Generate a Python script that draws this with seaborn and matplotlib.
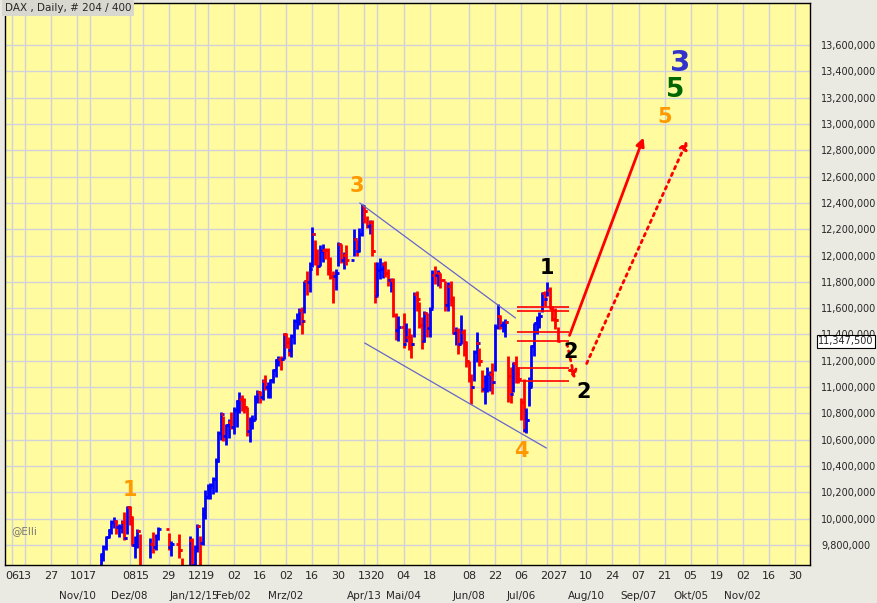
import numpy as np
import pandas as pd
import matplotlib
matplotlib.use("Agg")
import matplotlib.pyplot as plt
import seaborn as sns

# ---- data (DAX daily) ----
holidays = ["2014-12-24", "2014-12-25", "2014-12-26", "2014-12-31", "2015-01-01",
            "2015-04-03", "2015-04-06", "2015-05-01", "2015-05-25"]
closes = [9472, 9732, 9785, 9861, 9915, 9974, 9980,
          9934, 9935, 9971, 9851, 10087, 10014, 9799, 9800, 9903, 9594, 9335, 9563, 9564, 9811, 9787, 9866, 9922, 9783, 9806,
          9765, 9473, 9469, 9518, 9837, 9648, 9781, 9941, 9817, 10032, 10167, 10242, 10257, 10299, 10435, 10649, 10798, 10628, 10710, 10738, 10694,
          10828, 10891, 10911, 10905, 10846, 10663, 10752, 10752, 10919, 10963, 10924, 11050, 11001, 11002, 11051, 11130, 11206, 11211, 11210, 11402,
          11345, 11281, 11390, 11504, 11551, 11583, 11500, 11806, 11799, 11901, 12167, 11980, 11923, 12036, 12040, 12039, 11896, 11843, 11842, 11869, 12086, 11966,
          12002, 11968, 12124, 12035, 12166, 12375, 12338, 12227, 12251, 12035, 11689, 11892, 11896, 11939, 11867, 11811, 11811, 11547, 11432, 11454,
          11327, 11380, 11350, 11327, 11710, 11673, 11472, 11351, 11560, 11447, 11594, 11853, 11849, 11864, 11815, 11625, 11771, 11673, 11413,
          11436, 11328, 11419, 11340, 11197, 11064, 11001, 11265, 11333, 11197, 10984, 11044, 11100, 11100, 11040, 11460, 11542, 11471, 11473, 11492, 11083, 10945,
          11180, 11099, 11058, 10890, 10676, 10747, 10997, 11316, 11484, 11516, 11540, 11717, 11673, 11735, 11604, 11520, 11513, 11347.5]
highs = [9540, 9740, 9800, 9870, 9920, 9990, 10010,
         9990, 9960, 9990, 10050, 10093, 10100, 10020, 9870, 9920, 9880, 9600, 9600, 9640, 9850, 9900, 9880, 9940, 9890, 9830,
         9880, 9700, 9590, 9580, 9870, 9850, 9800, 9960, 9870, 10090, 10220, 10260, 10270, 10320, 10460, 10670, 10810, 10780, 10720, 10760, 10810,
         10850, 10900, 10960, 10940, 10920, 10850, 10770, 10790, 10940, 10980, 10970, 11060, 11090, 11040, 11060, 11140, 11210, 11240, 11240, 11410,
         11410, 11380, 11400, 11520, 11560, 11600, 11610, 11810, 11880, 11950, 12220, 12120, 12050, 12080, 12090, 12060, 12060, 11990, 11880, 11900, 12100, 12090,
         12030, 12080, 12200, 12120, 12210, 12390, 12380, 12300, 12270, 12270, 11950, 11950, 11980, 11950, 11960, 11900, 11830, 11830, 11560, 11540,
         11560, 11490, 11450, 11400, 11720, 11730, 11650, 11530, 11580, 11560, 11610, 11890, 11920, 11890, 11870, 11810, 11800, 11810, 11690,
         11460, 11450, 11550, 11440, 11350, 11200, 11100, 11280, 11420, 11300, 11130, 11090, 11150, 11120, 11180, 11480, 11630, 11550, 11500, 11520, 11240, 11150,
         11190, 11240, 11150, 10920, 11060, 10840, 11080, 11320, 11490, 11540, 11570, 11720, 11730, 11800, 11760, 11620, 11600, 11460]
lows = [9380, 9500, 9680, 9760, 9850, 9880, 9930,
        9880, 9860, 9890, 9840, 9880, 9950, 9790, 9700, 9780, 9580, 9260, 9220, 9450, 9700, 9740, 9760, 9840, 9760, 9720,
        9700, 9460, 9380, 9400, 9530, 9640, 9640, 9750, 9650, 9800, 10000, 10150, 10150, 10190, 10200, 10430, 10600, 10590, 10560, 10610, 10680,
        10640, 10700, 10800, 10820, 10800, 10630, 10580, 10680, 10750, 10880, 10880, 10900, 10980, 10920, 10920, 11030, 11080, 11160, 11130, 11210,
        11300, 11240, 11230, 11330, 11440, 11470, 11400, 11560, 11700, 11720, 11910, 11930, 11850, 11920, 11950, 11970, 11850, 11820, 11640, 11740, 11920, 11940,
        11900, 11930, 12000, 12000, 12030, 12150, 12250, 12210, 12160, 12000, 11640, 11690, 11820, 11830, 11840, 11770, 11720, 11530, 11360, 11350,
        11300, 11340, 11280, 11220, 11380, 11580, 11450, 11290, 11340, 11380, 11380, 11600, 11780, 11770, 11750, 11580, 11580, 11620, 11400,
        11320, 11250, 11330, 11240, 11150, 11040, 10870, 11050, 11190, 11160, 10960, 10870, 10960, 10970, 10950, 11120, 11440, 11440, 11420, 11380, 10890, 10880,
        10960, 11030, 11030, 10750, 10660, 10650, 10860, 11000, 11240, 11400, 11450, 11570, 11620, 11690, 11600, 11500, 11440, 11340]

day_labels = [("2014-10-06", "06"), ("2014-10-13", "13"), ("2014-10-27", "27"), ("2014-11-10", "10"),
              ("2014-11-17", "17"), ("2014-12-08", "08"), ("2014-12-15", "15"), ("2014-12-29", "29"),
              ("2015-01-12", "12"), ("2015-01-19", "19"), ("2015-02-02", "02"), ("2015-02-16", "16"),
              ("2015-03-02", "02"), ("2015-03-16", "16"), ("2015-03-30", "30"), ("2015-04-13", "13"),
              ("2015-04-20", "20"), ("2015-05-04", "04"), ("2015-05-18", "18"), ("2015-06-08", "08"),
              ("2015-06-22", "22"), ("2015-07-06", "06"), ("2015-07-20", "20"), ("2015-07-27", "27"),
              ("2015-08-10", "10"), ("2015-08-24", "24"), ("2015-09-07", "07"), ("2015-09-21", "21"),
              ("2015-10-05", "05"), ("2015-10-19", "19"), ("2015-11-02", "02"), ("2015-11-16", "16"),
              ("2015-11-30", "30")]
month_labels = [("2014-11-10", "Nov/10"), ("2014-12-08", "Dez/08"), ("2015-01-12", "Jan/12/15"),
                ("2015-02-02", "Feb/02"), ("2015-03-02", "Mrz/02"), ("2015-04-13", "Apr/13"),
                ("2015-05-04", "Mai/04"), ("2015-06-08", "Jun/08"), ("2015-07-06", "Jul/06"),
                ("2015-08-10", "Aug/10"), ("2015-09-07", "Sep/07"), ("2015-10-05", "Okt/05"),
                ("2015-11-02", "Nov/02")]

# Elliott wave labels: (text, x index, value, colour, size)
waves = [("1", 45, 10218, "#FF9900", 15), ("3", 132, 12528, "#FF9900", 15),
         ("4", 195, 10514, "#FF9900", 15), ("1", 205, 11905, "black", 15),
         ("2", 214, 11267, "black", 15), ("2", 219, 10963, "black", 15),
         ("5", 250, 13053, "#FF9900", 15), ("5", 254, 13258, "#006600", 19),
         ("3", 256, 13463, "#3333CC", 21)]
channel_upper = ([133.2, 192.9], [12399, 11525])
channel_lower = ([135.1, 204.7], [11335, 10537])
fib_levels = [11609, 11578, 11419, 11350, 11145, 11046]
fib_span = (193.5, 213.5)
arrow_solid = ((213.2, 11373), (242.3, 12916))
arrow_dot_down = ((212.4, 11350), (215.8, 11039))
arrow_dot_up = ((219.7, 11160), (259.1, 12893))

# ---- build positions (business days since 2014-10-06) ----
origin = np.datetime64("2014-10-06")
dates = pd.bdate_range("2014-11-20", "2015-07-24")
dates = dates[~dates.isin(pd.to_datetime(holidays))]
assert len(dates) == len(closes) == len(highs) == len(lows)
xs = np.busday_count(origin, dates.values.astype("datetime64[D]"))
opens = [closes[0]] + closes[:-1]
df = pd.DataFrame({"x": xs, "open": opens, "high": highs, "low": lows, "close": closes})
df["up"] = df["close"] >= df["open"]

def pos(d):
    return np.busday_count(origin, np.datetime64(d))

YLO, YHI = 9648, 13919
sns.set_style("white")
plt.rcParams["font.family"] = ["DejaVu Sans"]
fig = plt.figure(figsize=(8.77, 6.03), dpi=100, facecolor="#EAEAE2")
ax = fig.add_axes([5 / 877, 38 / 603, 805 / 877, 562 / 603])
ax.set_facecolor("#FFFB9E")

for _, r in df.iterrows():
    c = "#0000FF" if r.up else "#FF0000"
    ax.vlines(r.x, r.low, r.high, color=c, lw=2)
    ax.hlines(r.open, r.x - 1.1, r.x, color=c, lw=2)
    ax.hlines(r.close, r.x, r.x + 1.1, color=c, lw=2)

ax.set_xlim(-2.7, 305.7)
ax.set_ylim(YLO, YHI)
yt = np.arange(9800, 13601, 200)
ax.yaxis.tick_right()
ax.set_yticks(yt)
ax.set_yticklabels([f"{v * 1000:,.0f}" for v in yt], fontsize=7)
ax.tick_params(axis="y", length=0, pad=8)
xt = [pos(d) for d, _ in day_labels]
ax.set_xticks(xt)
ax.set_xticklabels([t for _, t in day_labels], fontsize=8)
ax.tick_params(axis="x", direction="in", length=4, color="red", pad=4)
for d, t in month_labels:
    ax.text(pos(d), -0.055, t, transform=ax.get_xaxis_transform(), ha="center", va="center", fontsize=7.5)
ax.grid(True, color="#D2D2DC", lw=1)
for s in ax.spines.values():
    s.set_color("black")
    s.set_linewidth(1)

ax.plot(*channel_upper, color="#6666CC", lw=0.9)
ax.plot(*channel_lower, color="#6666CC", lw=0.9)
for v in fib_levels:
    ax.hlines(v, *fib_span, color="red", lw=1.2)
ax.annotate("", xy=arrow_solid[1], xytext=arrow_solid[0],
            arrowprops=dict(arrowstyle="-|>", color="red", lw=2, mutation_scale=12))
ax.annotate("", xy=arrow_dot_down[1], xytext=arrow_dot_down[0],
            arrowprops=dict(arrowstyle="-|>", color="red", lw=2, ls=":", mutation_scale=12))
ax.annotate("", xy=arrow_dot_up[1], xytext=arrow_dot_up[0],
            arrowprops=dict(arrowstyle="-|>", color="red", lw=2, ls=":", mutation_scale=12))
for t, x, y, c, s in waves:
    ax.text(x, y, t, color=c, fontsize=s, fontweight="bold", ha="center", va="center")

ax.text(1.01, (closes[-1] - YLO) / (YHI - YLO), f"{closes[-1] * 1000:,.0f}",
        transform=ax.transAxes, fontsize=7, va="center", ha="left",
        bbox=dict(boxstyle="square,pad=0.15", fc="white", ec="black", lw=0.8))
ax.text(0.0, 1.0, "DAX , Daily, # 204 / 400", transform=ax.transAxes, fontsize=7.5, va="top", ha="left",
        bbox=dict(boxstyle="square,pad=0.25", fc="#D8D8D0", ec="none"))
ax.text(0.008, 0.055, "@Elli", transform=ax.transAxes, fontsize=7.5, color="#777777")

fig.savefig("out.png", dpi=100, facecolor=fig.get_facecolor())
